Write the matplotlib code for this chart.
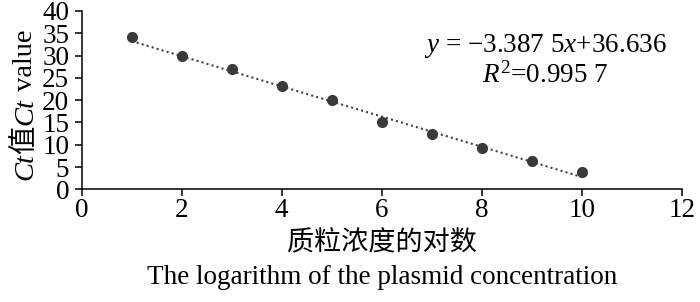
import matplotlib
matplotlib.use('Agg')
import matplotlib.pyplot as plt
import numpy as np

plt.rcParams['font.family'] = ['Liberation Serif', 'Noto Sans CJK SC']
plt.rcParams['mathtext.fontset'] = 'custom'
plt.rcParams['mathtext.rm'] = 'Liberation Serif'
plt.rcParams['mathtext.it'] = 'Liberation Serif:italic'

# data
log_conc = [1, 2, 3, 4, 5, 6, 7, 8, 9, 10]
ct_values = [34.1, 29.9, 27.0, 23.2, 20.0, 15.0, 12.4, 9.3, 6.3, 3.8]
slope, intercept = -3.3875, 36.636
x_ticks = [0, 2, 4, 6, 8, 10, 12]
y_ticks = [0, 5, 10, 15, 20, 25, 30, 35, 40]

FS = 19.5
dark = '#3a3a3a'

fig = plt.figure(figsize=(7, 3.02), dpi=100)
ax = fig.add_axes([0.1167, 0.3732, 0.974 - 0.1167, 0.9636 - 0.3732])

# trend line
fit_x = np.array([log_conc[0], log_conc[-1]])
ax.plot(fit_x, slope * fit_x + intercept, color='#444444', lw=1.5,
        linestyle=(0, (1, 1.5)), zorder=2)
# measured points
ax.plot(log_conc, ct_values, 'o', color=dark, markersize=7, zorder=3)

ax.set_xlim(0, 12)
ax.set_ylim(0, 40)
ax.set_xticks(x_ticks)
ax.set_yticks(y_ticks)
ax.spines['top'].set_visible(False)
ax.spines['right'].set_visible(False)
for s in ('left', 'bottom'):
    ax.spines[s].set_linewidth(1.1)
ax.tick_params(axis='both', direction='out', length=5, width=1.1,
               labelsize=FS, colors='black')
ax.tick_params(axis='x', pad=1)
ax.tick_params(axis='y', pad=4)

# equation
fig.text(0.779, 0.828, r'$y$ = −3.387 5$x$+36.636', fontsize=FS,
         ha='center', va='baseline')
fig.text(0.779, 0.725, r'$R^2$=0.995 7', fontsize=FS,
         ha='center', va='baseline')

# x labels
fig.text(0.546, 0.172, '质粒浓度的对数', fontsize=FS,
         family=['Noto Sans CJK SC'], ha='center', va='baseline')
fig.text(0.546, 0.060, 'The logarithm of the plasmid concentration',
         fontsize=FS, ha='center', va='baseline')

# y label built from pieces (italic Ct, CJK char, plain text)
pieces = [('Ct', 'italic', ['Liberation Serif']),
          ('值', 'normal', ['Noto Sans CJK SC']),
          ('Ct', 'italic', ['Liberation Serif']),
          (' value', 'normal', ['Liberation Serif'])]
ylab_x = 0.046
texts = []
for s, style, fam in pieces:
    t = fig.text(ylab_x, 0.5, s, fontsize=20.5, style=style, family=fam,
                 rotation=90, rotation_mode='anchor', ha='left', va='baseline')
    texts.append(t)
fig.canvas.draw()
renderer = fig.canvas.get_renderer()
heights = [t.get_window_extent(renderer).height / fig.bbox.height for t in texts]
y = 0.652 - sum(heights) / 2
for t, h in zip(texts, heights):
    t.set_position((ylab_x, y))
    y += h

fig.savefig('out.png', dpi=100)
